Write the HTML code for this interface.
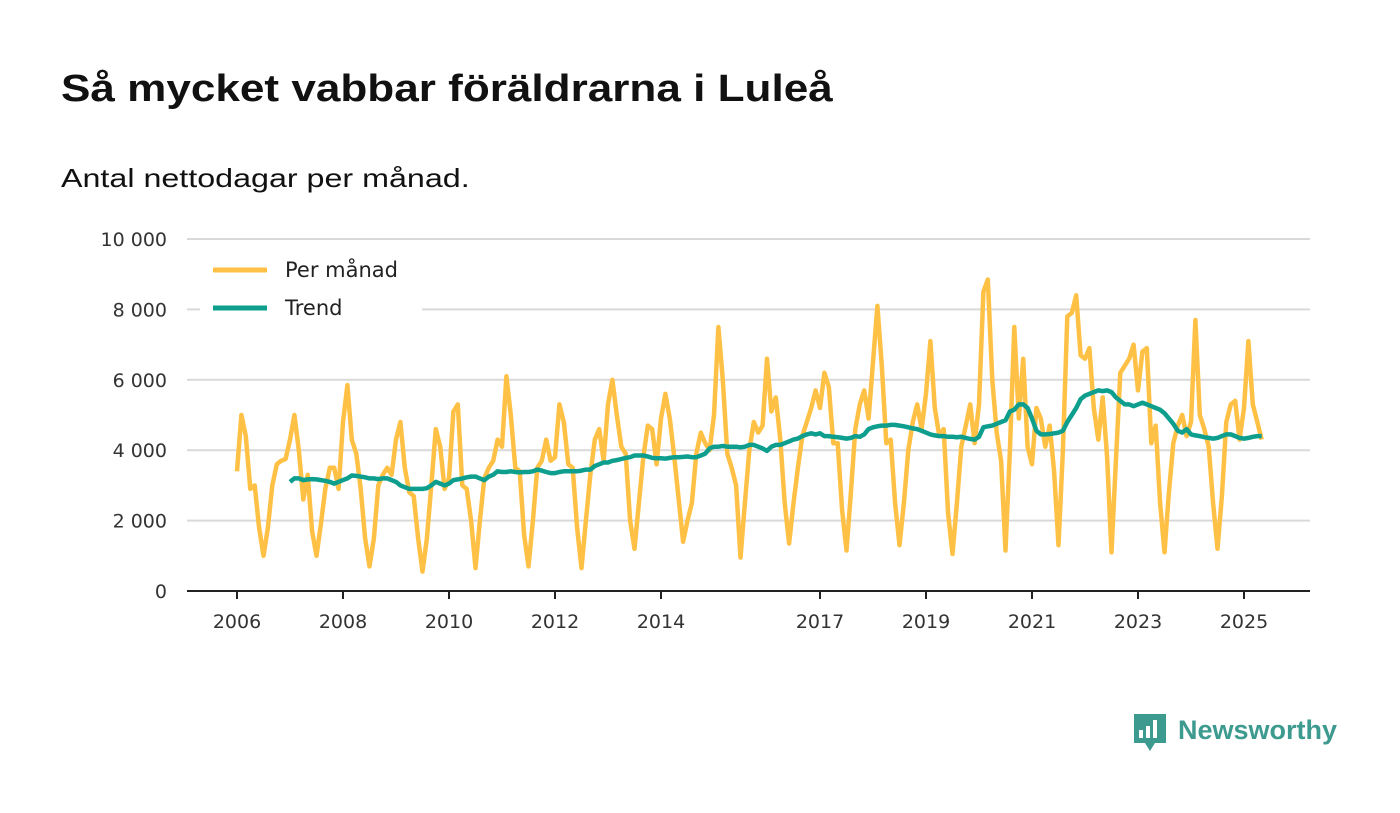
<!DOCTYPE html>
<html><head><meta charset="utf-8"><style>
body{margin:0;background:#fff;font-family:"Liberation Sans",sans-serif;}
#wrap{position:relative;width:1400px;height:813px;overflow:hidden;}
h1{position:absolute;left:61px;top:68px;margin:0;font-size:38px;font-weight:bold;color:#111;transform-origin:0 0;transform:scaleX(1.16);white-space:nowrap;}
.sub{position:absolute;left:61px;top:163px;font-size:26px;color:#111;transform-origin:0 0;transform:scaleX(1.24);white-space:nowrap;}
</style></head><body>
<div id="wrap">
<h1>Så mycket vabbar föräldrarna i Luleå</h1>
<div class="sub">Antal nettodagar per månad.</div>
<svg id="chart" width="1400" height="813" style="position:absolute;left:0;top:0"></svg>
</div>
<script>
const monthly = [
3400,5000,4400,2900,3000,1800,1000,1800,3000,3600,3700,3750,
4300,5000,4000,2600,3300,1700,1000,1900,2900,3500,3500,2900,
4800,5850,4300,3900,2900,1500,700,1500,3000,3300,3500,3300,
4300,4800,3500,2800,2700,1500,550,1500,3000,4600,4100,2900,
3200,5100,5300,3000,2900,2000,650,2000,3200,3500,3700,4300,
4100,6100,5000,3500,3400,1600,700,2000,3500,3700,4300,3700,
3800,5300,4800,3600,3500,1800,650,2000,3300,4300,4600,3700,
5300,6000,5000,4100,3900,2000,1200,2500,3800,4700,4600,3600,
4900,5600,4900,3800,2600,1400,2000,2500,3900,4500,4200,4000,
5000,7500,6000,3900,3500,3000,950,2500,4000,4800,4500,4700,
6600,5100,5500,4300,2500,1350,2500,3500,4400,4800,5200,5700,
5200,6200,5800,4200,4200,2300,1150,2800,4600,5300,5700,4900,
6500,8100,6400,4200,4300,2500,1300,2500,4000,4800,5300,4600,
5600,7100,5200,4400,4600,2200,1050,2500,4100,4700,5300,4200,
5300,8500,8850,6000,4500,3700,1150,4000,7500,4900,6600,4100,
3600,5200,4900,4100,4700,3400,1300,4000,7800,7900,8400,6700,
6600,6900,5200,4300,5500,3800,1100,3700,6200,6400,6600,7000,
5700,6800,6900,4200,4700,2500,1100,2800,4200,4700,5000,4400,
4800,7700,5000,4600,4100,2500,1200,2700,4800,5300,5400,4300,
5200,7100,5300,4800,4300];
const trendStart = 12; // month index of first trend value (2007-01)
const trend = [
3100,3200,3200,3150,3170,3180,3170,3150,3130,3100,3050,3100,
3150,3200,3280,3270,3250,3230,3200,3200,3180,3200,3200,3150,
3100,3000,2950,2900,2900,2900,2900,2920,3000,3100,3050,3000,
3050,3150,3170,3200,3230,3250,3250,3200,3150,3250,3300,3400,
3380,3380,3400,3380,3370,3380,3380,3400,3450,3420,3380,3350,
3350,3380,3400,3400,3400,3400,3420,3450,3450,3550,3600,3650,
3650,3700,3720,3750,3780,3800,3850,3850,3850,3820,3780,3770,
3770,3760,3780,3800,3800,3810,3820,3800,3800,3850,3900,4050,
4100,4100,4120,4100,4100,4100,4080,4100,4150,4150,4100,4050,
3980,4100,4150,4150,4200,4250,4300,4330,4400,4450,4480,4450,
4480,4400,4400,4380,4370,4350,4330,4350,4400,4380,4450,4600,
4650,4680,4700,4700,4720,4720,4700,4680,4650,4620,4600,4550,
4500,4450,4420,4400,4400,4380,4380,4370,4380,4350,4320,4300,
4380,4650,4680,4700,4750,4800,4850,5100,5150,5300,5300,5200,
4900,4550,4450,4450,4460,4480,4500,4550,4800,5000,5200,5450,
5550,5600,5650,5700,5680,5700,5650,5500,5400,5300,5300,5250,
5300,5350,5300,5250,5200,5150,5050,4900,4750,4550,4500,4600,
4450,4420,4400,4370,4350,4330,4350,4400,4450,4450,4400,4350,
4330,4350,4380,4400,4400];
const yTicks = [0,2000,4000,6000,8000,10000];
const yTickLabels = ["0","2 000","4 000","6 000","8 000","10 000"];
const xTickYears = [2006,2008,2010,2012,2014,2017,2019,2021,2023,2025];

const NS="http://www.w3.org/2000/svg";
const svg=document.getElementById('chart');
const X=i=>237+i*53/12;
const Y=v=>591-v*0.0352;
const LF='DejaVu Sans, sans-serif';
function mk(t,a){const e=document.createElementNS(NS,t);for(const k in a)e.setAttribute(k,a[k]);svg.appendChild(e);return e;}
yTicks.forEach((v,i)=>{
  if(v>0){const g=mk('line',{x1:187,x2:1310,y1:Y(v),y2:Y(v),stroke:'#d9d9d9','stroke-width':2});
  
  }
  const t=mk('text',{x:167,y:Y(v)+7,'text-anchor':'end','font-size':19,fill:'#333','font-family':LF});
  t.textContent=yTickLabels[i];
  
  
});
const ax=mk('line',{x1:187,x2:1310,y1:591,y2:591,stroke:'#222','stroke-width':2});


xTickYears.forEach(yr=>{
  const x=X((yr-2006)*12);
  const tk=mk('line',{x1:x,x2:x,y1:591,y2:599,stroke:'#222','stroke-width':2});
  
  
  const t=mk('text',{x:x,y:628,'text-anchor':'middle','font-size':19,fill:'#333','font-family':LF});
  t.textContent=yr;
  
  
});
const pm=mk('path',{d:monthly.map((v,i)=>(i?'L':'M')+X(i).toFixed(1)+','+Y(v).toFixed(1)).join(''),fill:'none',stroke:'#ffc145','stroke-width':4.5,'stroke-linejoin':'round'});


const tr=mk('path',{d:trend.map((v,i)=>(i?'L':'M')+X(i+trendStart).toFixed(1)+','+Y(v).toFixed(1)).join(''),fill:'none',stroke:'#0e9e8e','stroke-width':4.5,'stroke-linejoin':'round'});


// legend
const lbg=mk('rect',{x:200,y:250,width:222,height:74,fill:'#fff'});


[['Per månad','#ffc145',270],['Trend','#0e9e8e',308]].forEach(([lab,c,y])=>{
  const l=mk('line',{x1:213,x2:267,y1:y,y2:y,stroke:c,'stroke-width':5});
  
  
  const t=mk('text',{x:285,y:y+7,'font-size':21,fill:'#222','font-family':LF});
  t.textContent=lab;
  
  
});
// logo
const lg=mk('g',{});


lg.innerHTML='<path d="M1134 714h32v29h-11l-5 8-5-8h-11z" fill="#3d9a8f"/><rect x="1139" y="730" width="4" height="8" fill="#fff"/><rect x="1146" y="726" width="4" height="12" fill="#fff"/><rect x="1153" y="720" width="4" height="18" fill="#fff"/><text x="1178" y="739" font-size="27" font-weight="bold" fill="#3d9a8f" font-family="Liberation Sans, sans-serif">Newsworthy</text>';
</script>
</body></html>
